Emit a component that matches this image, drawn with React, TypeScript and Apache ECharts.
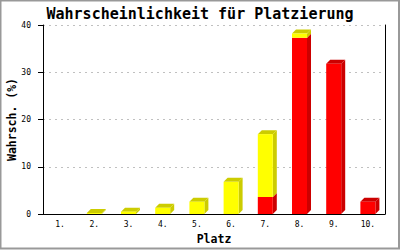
import React, { useEffect, useRef } from "react";
import * as echarts from "echarts";

const categories = ["1.", "2.", "3.", "4.", "5.", "6.", "7.", "8.", "9.", "10."];
const redValues = [0, 0, 0, 0, 0, 0, 3.6, 37.3, 31.8, 2.6];
const yellowValues = [0, 0.2, 0.5, 1.3, 2.6, 6.8, 13.3, 0.9, 0, 0];
const yTicks = [0, 10, 20, 30, 40];

const FONT = "DejaVu Sans Mono";

export default function App() {
  const ref = useRef<HTMLDivElement>(null);
  useEffect(() => {
    document.body.style.margin = "0";
    const chart = echarts.init(ref.current!, null, { renderer: "svg" });
    const data = categories.map((_, i) => [i, redValues[i], yellowValues[i]]);
    const W = 15;
    const D = 4;
    const option: any = {
      animation: false,
      backgroundColor: "#ffffff",
      title: {
        text: "Wahrscheinlichkeit für Platzierung",
        left: "center",
        top: 1,
        textStyle: { fontFamily: FONT, fontSize: 15, fontWeight: "bold", color: "#000" },
      },
      grid: { left: 43, right: 15, top: 25, bottom: 36, containLabel: false, outerBoundsMode: "none" },
      xAxis: {
        type: "category",
        data: categories,
        name: "Platz",
        nameLocation: "middle",
        nameGap: 19,
        nameMoveOverlap: false,
        nameTextStyle: { fontFamily: FONT, fontSize: 11.5, fontWeight: "bold", color: "#000" },
        axisLine: { lineStyle: { color: "#000", width: 1 } },
        axisTick: { show: false },
        axisLabel: { fontFamily: FONT, fontSize: 8, color: "#000", margin: 6 },
      },
      yAxis: [
        {
          type: "value",
          min: yTicks[0],
          max: yTicks[yTicks.length - 1],
          interval: 10,
          name: "Wahrsch. (%)",
          nameLocation: "middle",
          nameGap: 25,
          nameMoveOverlap: false,
          nameTextStyle: { fontFamily: FONT, fontSize: 11.5, fontWeight: "bold", color: "#000" },
          axisLine: { show: true, lineStyle: { color: "#000", width: 1 } },
          axisTick: { show: true, length: 5, lineStyle: { color: "#000" } },
          axisLabel: { fontFamily: FONT, fontSize: 8, color: "#000", margin: 12 },
          splitLine: { show: true, lineStyle: { color: "#c0c0c0", type: [2, 4], width: 1 } },
        },
        {
          type: "value",
          min: 0,
          max: 40,
          interval: 10,
          position: "right",
          axisLine: { show: true, lineStyle: { color: "#000", width: 1 } },
          axisTick: { show: false },
          axisLabel: { show: false },
          splitLine: { show: false },
        },
      ],
      graphic: [
        {
          type: "rect",
          shape: { x: 0.5, y: 0.5, width: 398.5, height: 248 },
          style: { fill: "none", stroke: "#999999", lineWidth: 2 },
          silent: true,
        },
      ],
      series: [
        {
          type: "custom",
          data,
          encode: { x: 0, y: [1, 2] },
          renderItem: (params: any, api: any) => {
            const i = api.value(0);
            const r = api.value(1);
            const y = api.value(2);
            const p0 = api.coord([i, 0]);
            const pr = api.coord([i, r]);
            const pt = api.coord([i, r + y]);
            const x0 = p0[0] - W / 2;
            const x1 = x0 + W;
            const children: any[] = [];
            const seg = (yb: number, yt: number, front: string, dark: string, top: boolean) => {
              if (yb - yt <= 0 && !top) return;
              children.push({
                type: "polygon",
                shape: { points: [[x1, yt], [x1 + D, yt - D], [x1 + D, yb - D], [x1, yb]] },
                style: { fill: dark },
              });
              if (top) {
                children.push({
                  type: "polygon",
                  shape: { points: [[x0, yt], [x0 + D, yt - D], [x1 + D, yt - D], [x1, yt]] },
                  style: { fill: dark },
                });
              }
              if (yb - yt > 0) {
                children.push({
                  type: "rect",
                  shape: { x: x0, y: yt, width: W, height: yb - yt },
                  style: { fill: front },
                });
              }
            };
            if (r + y <= 0) return { type: "group", children: [] };
            if (r > 0) seg(p0[1], pr[1], "#ff0000", "#cc0000", y <= 0);
            if (y > 0) seg(pr[1], pt[1], "#ffff00", "#cccc00", true);
            return { type: "group", children };
          },
        },
      ],
    };
    chart.setOption(option);
    return () => chart.dispose();
  }, []);
  return <div ref={ref} style={{ width: 400, height: 250 }} />;
}
